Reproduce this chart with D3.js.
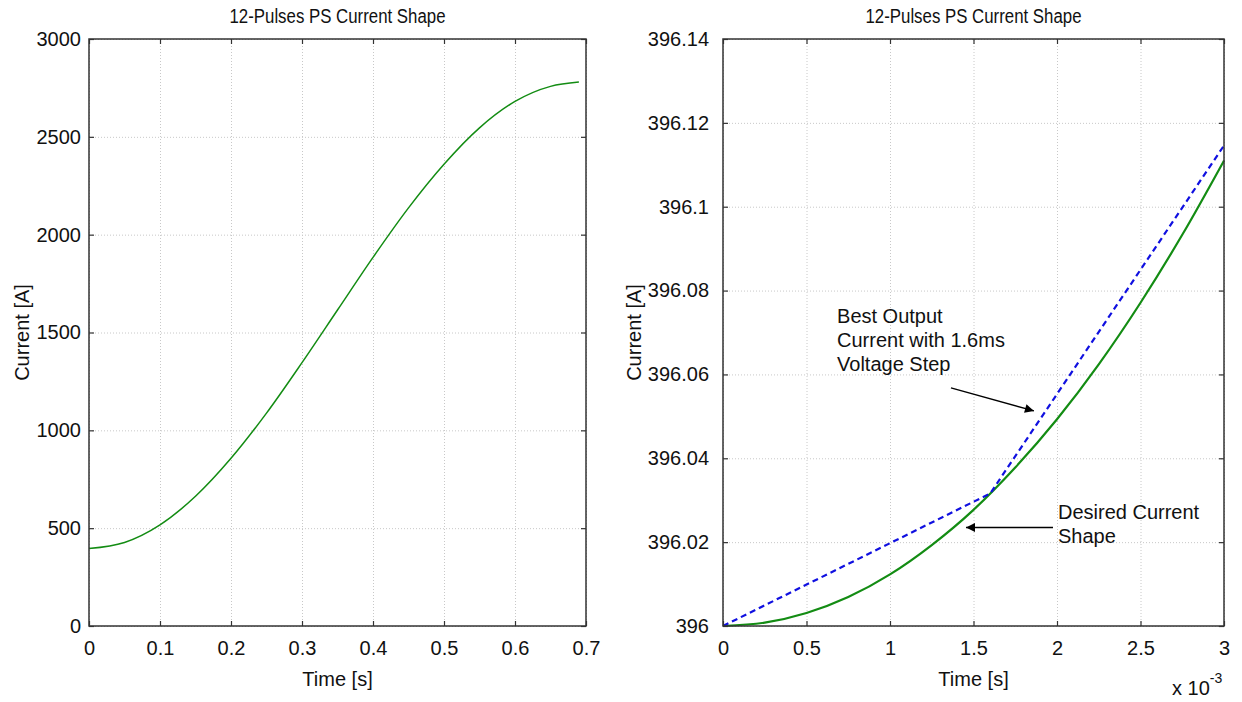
<!DOCTYPE html>
<html>
<head>
<meta charset="utf-8">
<script src="https://cdn.jsdelivr.net/npm/d3@7"></script>
<style>
  body { margin: 0; background: #fff; }
  text { font-family: Arial, "Liberation Sans", sans-serif; fill: #111; }
</style>
</head>
<body>
<svg id="svg" width="1242" height="702"></svg>
<script>
(function() {
  'use strict';

  // left panel: full current ramp
  var leftTime = [0, 0.05, 0.1, 0.15, 0.2, 0.25, 0.3, 0.35, 0.4, 0.45, 0.5, 0.55, 0.6, 0.65, 0.69];
  var leftCurrent = [396, 427, 517, 663, 857, 1088, 1346, 1615, 1884, 2137, 2360, 2546, 2681, 2758, 2780];
  var leftXTicks = [0, 0.1, 0.2, 0.3, 0.4, 0.5, 0.6, 0.7];
  var leftYTicks = [0, 500, 1000, 1500, 2000, 2500, 3000];

  // right panel: zoom on first 3 ms (time in units of 1e-3 s)
  var rightTime = [0, 0.25, 0.5, 0.75, 1, 1.25, 1.5, 1.75, 2, 2.25, 2.5, 2.75, 3];
  var desiredCurrent = [396, 396.0008, 396.0031, 396.0069, 396.0123, 396.0193, 396.0277,
    396.0378, 396.0493, 396.0624, 396.0771, 396.0933, 396.111];
  var stepTime = [0, 1.6, 3];
  var stepCurrent = [396, 396.0316, 396.1146];
  var rightXTicks = [0, 0.5, 1, 1.5, 2, 2.5, 3];
  var rightYTicks = [396, 396.02, 396.04, 396.06, 396.08, 396.1, 396.12, 396.14];

  var titleText = "12-Pulses PS Current Shape";

  var svg = d3.select("#svg");
  var green = "#138c13";
  var fmt = function(d) { return String(d); };

  svg.append("defs").append("marker")
    .attr("id", "arrow")
    .attr("viewBox", "0 0 10 10")
    .attr("refX", 10).attr("refY", 5)
    .attr("markerWidth", 12).attr("markerHeight", 9)
    .attr("markerUnits", "userSpaceOnUse")
    .attr("orient", "auto")
    .append("path")
    .attr("d", "M0,0 L10,5 L0,10 Z")
    .attr("fill", "#000");

  // draw one axes box with grid, inward ticks, labels
  function panel(opt) {
    var x = d3.scaleLinear().domain(opt.xDomain).range([opt.left, opt.right]);
    var y = d3.scaleLinear().domain(opt.yDomain).range([opt.bottom, opt.top]);
    var w = opt.right - opt.left, h = opt.bottom - opt.top;
    var g = svg.append("g");

    // grid
    g.append("g")
      .attr("transform", "translate(0," + opt.bottom + ")")
      .call(d3.axisBottom(x).tickValues(opt.xTicks).tickSize(-h).tickFormat(""))
      .call(function(s) {
        s.select(".domain").remove();
        s.selectAll("line").attr("stroke", "#c8c8c8").attr("stroke-dasharray", "1,2");
      });
    g.append("g")
      .attr("transform", "translate(" + opt.left + ",0)")
      .call(d3.axisLeft(y).tickValues(opt.yTicks).tickSize(-w).tickFormat(""))
      .call(function(s) {
        s.select(".domain").remove();
        s.selectAll("line").attr("stroke", "#c8c8c8").attr("stroke-dasharray", "1,2");
      });

    // curves
    opt.series.forEach(function(sr) {
      var line = d3.line()
        .curve(sr.curve)
        .x(function(d, i) { return x(sr.xs[i]); })
        .y(function(d) { return y(d); });
      g.append("path")
        .attr("d", line(sr.ys))
        .attr("fill", "none")
        .attr("stroke", sr.color)
        .attr("stroke-width", sr.width)
        .attr("stroke-dasharray", sr.dash || null);
    });

    // axes with inward ticks
    function styleAxis(s) {
      s.select(".domain").remove();
      s.selectAll("line").attr("stroke", "#333").attr("stroke-width", 1.2);
      s.selectAll("text").style("font-size", "20px").attr("fill", "#111");
    }
    g.append("g")
      .attr("transform", "translate(0," + opt.bottom + ")")
      .call(d3.axisBottom(x).tickValues(opt.xTicks).tickSizeInner(-5).tickSizeOuter(0)
        .tickPadding(15).tickFormat(fmt))
      .call(styleAxis);
    g.append("g")
      .attr("transform", "translate(0," + opt.top + ")")
      .call(d3.axisTop(x).tickValues(opt.xTicks).tickSizeInner(-5).tickSizeOuter(0).tickFormat(""))
      .call(styleAxis);
    g.append("g")
      .attr("transform", "translate(" + opt.left + ",0)")
      .call(d3.axisLeft(y).tickValues(opt.yTicks).tickSizeInner(-5).tickSizeOuter(0)
        .tickPadding(opt.yPad).tickFormat(fmt))
      .call(styleAxis);
    g.append("g")
      .attr("transform", "translate(" + opt.right + ",0)")
      .call(d3.axisRight(y).tickValues(opt.yTicks).tickSizeInner(-5).tickSizeOuter(0).tickFormat(""))
      .call(styleAxis);

    g.append("rect")
      .attr("x", opt.left).attr("y", opt.top)
      .attr("width", w).attr("height", h)
      .attr("fill", "none").attr("stroke", "#333").attr("stroke-width", 1.5);

    // title and labels
    g.append("text")
      .attr("x", (opt.left + opt.right) / 2 - 108).attr("y", 23)
      .attr("textLength", 216).attr("lengthAdjust", "spacingAndGlyphs")
      .style("font-size", "20px")
      .text(titleText);
    g.append("text")
      .attr("x", (opt.left + opt.right) / 2).attr("y", 686)
      .attr("text-anchor", "middle").style("font-size", "20px")
      .text("Time [s]");
    g.append("text")
      .attr("transform", "translate(" + opt.ylabelX + "," + (opt.top + opt.bottom) / 2 + ") rotate(-90)")
      .attr("text-anchor", "middle").style("font-size", "20px")
      .text("Current [A]");

    return { g: g, x: x, y: y };
  }

  panel({
    left: 89, right: 586, top: 39, bottom: 626,
    xDomain: [0, 0.7], yDomain: [0, 3000],
    xTicks: leftXTicks, yTicks: leftYTicks, ylabelX: 29, yPad: 8,
    series: [
      { xs: leftTime, ys: leftCurrent, color: green, width: 1.5, curve: d3.curveMonotoneX }
    ]
  });

  var R = panel({
    left: 723, right: 1224, top: 39, bottom: 626,
    xDomain: [0, 3], yDomain: [396, 396.14],
    xTicks: rightXTicks, yTicks: rightYTicks, ylabelX: 641, yPad: 14,
    series: [
      { xs: rightTime, ys: desiredCurrent, color: green, width: 2.2, curve: d3.curveMonotoneX },
      { xs: stepTime, ys: stepCurrent, color: "#1010e0", width: 2.2, dash: "6,4", curve: d3.curveLinear }
    ]
  });

  // exponent label for the right time axis
  var expo = R.g.append("text")
    .attr("x", 1172).attr("y", 695)
    .style("font-size", "20px");
  expo.append("tspan").text("x 10");
  expo.append("tspan").attr("dy", -12).style("font-size", "14px").text("-3");

  // annotations
  var noteBest = ["Best Output", "Current with 1.6ms", "Voltage Step"];
  var noteDesired = ["Desired Current", "Shape"];

  R.g.append("text")
    .attr("x", R.x(0.683)).attr("y", R.y(396.0723))
    .style("font-size", "20px")
    .selectAll("tspan").data(noteBest).join("tspan")
    .attr("x", R.x(0.683)).attr("dy", function(d, i) { return i ? 24 : 0; })
    .text(function(d) { return d; });

  R.g.append("text")
    .attr("x", R.x(2.006)).attr("y", R.y(396.0255))
    .style("font-size", "20px")
    .selectAll("tspan").data(noteDesired).join("tspan")
    .attr("x", R.x(2.006)).attr("dy", function(d, i) { return i ? 24 : 0; })
    .text(function(d) { return d; });

  R.g.append("line")
    .attr("x1", R.x(1.365)).attr("y1", R.y(396.0568))
    .attr("x2", R.x(1.862)).attr("y2", R.y(396.0513))
    .attr("stroke", "#000").attr("stroke-width", 1.4)
    .attr("marker-end", "url(#arrow)");

  R.g.append("line")
    .attr("x1", R.x(1.976)).attr("y1", R.y(396.0235))
    .attr("x2", R.x(1.455)).attr("y2", R.y(396.0235))
    .attr("stroke", "#000").attr("stroke-width", 1.4)
    .attr("marker-end", "url(#arrow)");
}());
</script>
</body>
</html>
